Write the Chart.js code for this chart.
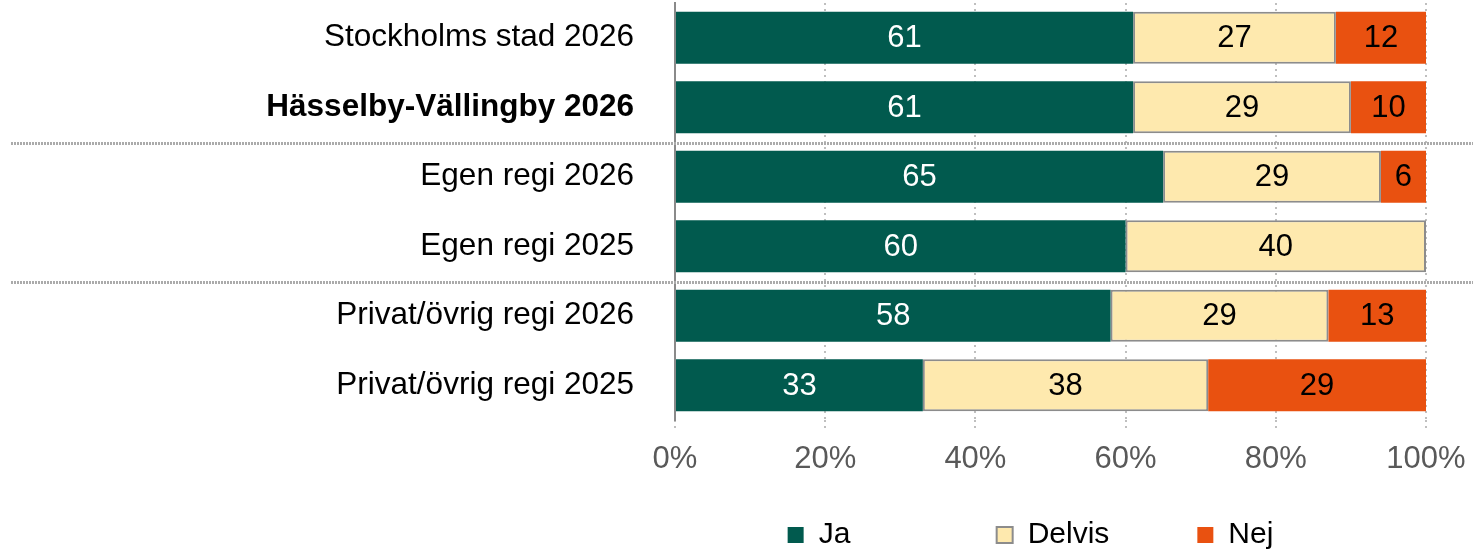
<!DOCTYPE html>
<html>
<head>
<meta charset="utf-8">
<script src="https://cdn.jsdelivr.net/npm/chart.js@4.4.1/dist/chart.umd.min.js"></script>
<style>
  html, body { margin: 0; padding: 0; background: #fff; }
  #wrap { width: 1473px; height: 553px; }
</style>
</head>
<body>
<div id="wrap"><canvas id="myChart"></canvas></div>
<script>
const categories = [
  'Stockholms stad 2026',
  'Hässelby-Vällingby 2026',
  'Egen regi 2026',
  'Egen regi 2025',
  'Privat/övrig regi 2026',
  'Privat/övrig regi 2025',
];
const boldCategories = ['Hässelby-Vällingby 2026'];
const ja = [61, 61, 65, 60, 58, 33];
const delvis = [27, 29, 29, 40, 29, 38];
const nej = [12, 10, 6, 0, 13, 29];
const xTicks = [0, 20, 40, 60, 80, 100];
// grupperna skiljs åt efter dessa index
const separatorsAfter = [1, 3];

const FONT = "'Liberation Sans', Arial, sans-serif";
Chart.defaults.font.family = FONT;

// värden mitt i staplarna
const barValues = {
  id: 'barValues',
  afterDatasetsDraw(chart) {
    const ctx = chart.ctx;
    chart.data.datasets.forEach((ds, di) => {
      const meta = chart.getDatasetMeta(di);
      meta.data.forEach((bar, i) => {
        const v = ds.data[i];
        if (!v) return;
        const p = bar.getCenterPoint();
        ctx.save();
        ctx.font = '31px ' + FONT;
        ctx.fillStyle = ds.valueColor;
        ctx.textAlign = 'center';
        ctx.textBaseline = 'middle';
        ctx.fillText(String(v), p.x, p.y + 1);
        ctx.restore();
      });
    });
  },
};

// streckade linjer mellan grupperna
const separators = {
  id: 'separators',
  afterDraw(chart) {
    const ctx = chart.ctx;
    const y = chart.scales.y;
    separatorsAfter.forEach(i => {
      const yy = Math.round((y.getPixelForValue(i) + y.getPixelForValue(i + 1)) / 2) + 1.5;
      ctx.save();
      ctx.strokeStyle = '#ababab';
      ctx.lineWidth = 3;
      ctx.setLineDash([2, 1]);
      ctx.beginPath();
      ctx.moveTo(11, yy);
      ctx.lineTo(chart.width, yy);
      ctx.stroke();
      ctx.restore();
    });
  },
};

// flytta legenden dit den står i originalet
const legendPlace = {
  id: 'legendPlace',
  afterLayout(chart) {
    const lg = chart.legend;
    const pad = lg.options.labels.padding;
    const fs = lg.options.labels.font.size;
    lg.left -= 20;
    lg.right -= 20;
    lg.top = 535 - fs / 2 - pad;
    lg.bottom = chart.height;
  },
};

const data = {
  labels: categories,
  datasets: [
    {
      label: 'Ja',
      data: ja,
      backgroundColor: '#015a4e',
      borderWidth: 0,
      valueColor: '#ffffff',
    },
    {
      label: 'Delvis',
      data: delvis,
      backgroundColor: '#fee9ae',
      borderColor: '#8c8c8c',
      borderWidth: 2,
      borderSkipped: false,
      valueColor: '#000000',
    },
    {
      label: 'Nej',
      data: nej,
      backgroundColor: '#e95110',
      borderWidth: 0,
      valueColor: '#000000',
    },
  ],
};

const config = {
  type: 'bar',
  data,
  options: {
    indexAxis: 'y',
    responsive: true,
    maintainAspectRatio: false,
    animation: false,
    datasets: {
      bar: {
        categoryPercentage: 1,
        barPercentage: 0.75,
      },
    },
    layout: {
      padding: { left: 0, right: 47, top: 3, bottom: 0 },
    },
    scales: {
      x: {
        stacked: true,
        min: 0,
        max: 100,
        afterBuildTicks: s => { s.ticks = xTicks.map(v => ({ value: v })); },
        afterFit: s => {
          s.height = 80;
          s.paddingLeft = 0;
          s.paddingRight = 0;
        },
        ticks: {
          callback: v => v + '%',
          color: '#595959',
          font: { size: 31 },
          padding: 13,
        },
        grid: {
          color: '#bfbfbf',
          lineWidth: 2,
          tickLength: 8,
          tickColor: '#bfbfbf',
          tickWidth: 2,
          tickBorderDash: [2, 4],
        },
        border: { display: false, dash: [2, 4] },
      },
      y: {
        stacked: true,
        afterFit: s => {
          s.width = 675;
          s.paddingTop = 0;
          s.paddingBottom = 0;
        },
        ticks: {
          color: '#000000',
          padding: 33,
          font: ctx => ({
            size: 31.5,
            weight: boldCategories.includes(categories[ctx.index]) ? 'bold' : 'normal',
          }),
        },
        grid: { display: false },
        border: { display: true, color: '#8a8a8a', width: 2 },
      },
    },
    plugins: {
      legend: {
        position: 'bottom',
        fullSize: false,
        maxHeight: 53,
        labels: {
          boxWidth: 16,
          boxHeight: 16,
          padding: 88,
          color: '#000000',
          font: { size: 30 },
          // Excel ger posterna lika bredd: första posten får luft efter texten
          generateLabels: chart => {
            const items = Chart.defaults.plugins.legend.labels.generateLabels(chart);
            items[0].text = items[0].text + '\u00a0'.repeat(7);
            return items;
          },
        },
      },
      tooltip: { enabled: false },
    },
  },
  plugins: [barValues, separators, legendPlace],
};

var myChart = new Chart(document.getElementById('myChart'), config);
</script>
</body>
</html>
